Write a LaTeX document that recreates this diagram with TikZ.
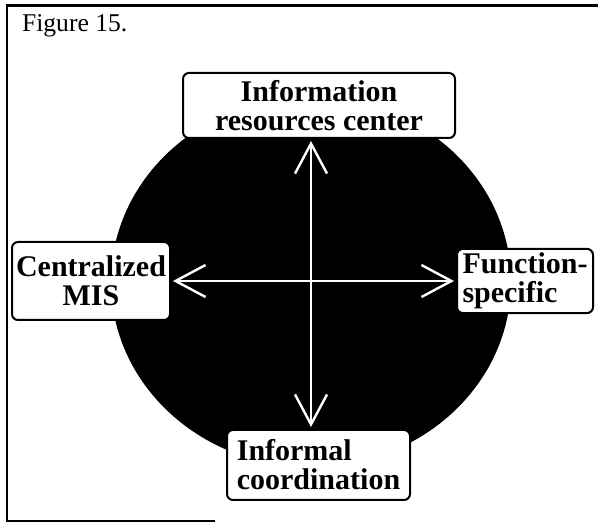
\documentclass[tikz,border=0pt]{standalone}
\usepackage{fontspec}
\setmainfont{Liberation Serif}
\usetikzlibrary{arrows.meta}

\begin{document}
\begin{tikzpicture}[x=0.5pt, y=0.5pt,
    box/.style={draw, line width=1pt, rounded corners=3pt, fill=white, align=center, inner sep=2pt,
        font=\bfseries\fontsize{15}{14.5}\selectfont},
    arrow/.style={{Straight Barb[length=15pt,width=16pt]}-{Straight Barb[length=15pt,width=16pt]},
        white, line width=1.2pt, shorten >=1pt, shorten <=1pt},
    frame/.style={line width=1.4pt}
]
    \useasboundingbox (0,0) rectangle (598,523);
    \draw[frame] (215,2) -- (7,2) -- (7,517.5) -- (598,517.5);
    \node[anchor=base west, font=\fontsize{12.8}{15}\selectfont] (fig) at (15,491) {Figure 15.};

    \coordinate (hub) at (311,241);
    \fill (hub) ellipse [x radius=200, y radius=185];

    \node[box, minimum width=136pt, minimum height=32.5pt] (irc) at (319,417.5) {Information\\resources center};
    \node[box, minimum width=79pt, minimum height=39pt] (cmis) at (91,242) {Centralized\\MIS};
    \node[box, align=left, minimum width=68pt, minimum height=31pt] (fspec) at (525,242) {Function-\\specific};
    \node[box, align=left, minimum width=91.5pt, minimum height=35pt] (icoord) at (318.5,58) {Informal\\coordination};

    \draw[arrow] (irc.south -| hub) -- (icoord.north -| hub);
    \draw[arrow] (cmis) -- (fspec);
\end{tikzpicture}
\end{document}
